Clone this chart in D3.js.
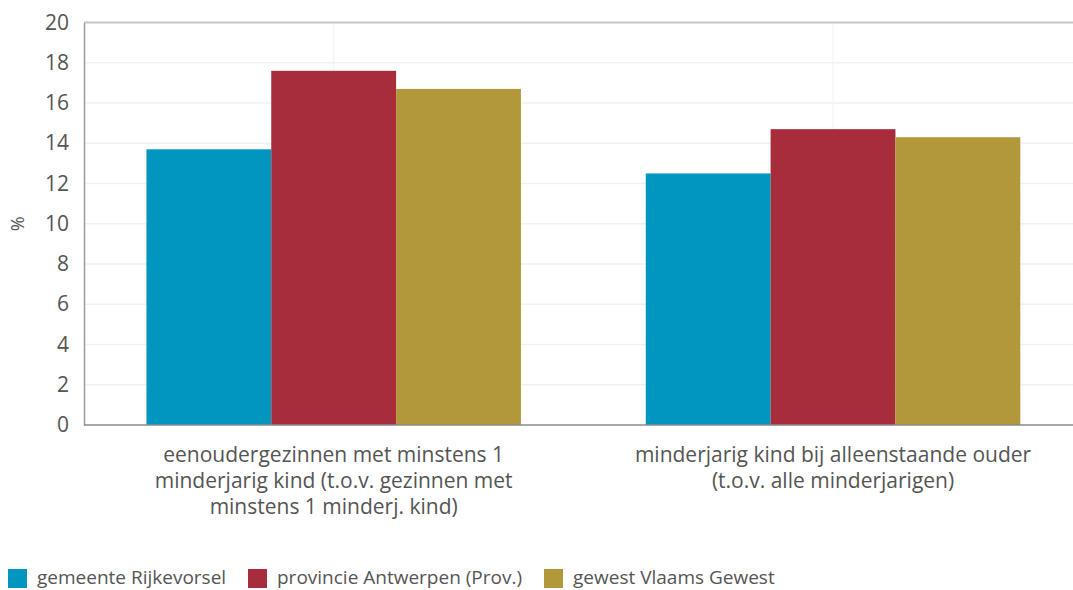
<!DOCTYPE html>
<html>
<head>
<meta charset="utf-8">
<script src="https://cdn.jsdelivr.net/npm/d3@7"></script>
<style>
  html, body { margin: 0; padding: 0; background: #fff; }
  svg { display: block; font-family: "Open Sans", "Noto Sans", sans-serif; }
</style>
</head>
<body>
<svg id="chart" width="1073" height="590"></svg>
<script>
const categories = [
  ["eenoudergezinnen met minstens 1", "minderjarig kind (t.o.v. gezinnen met", "minstens 1 minderj. kind)"],
  ["minderjarig kind bij alleenstaande ouder", "(t.o.v. alle minderjarigen)"]
];
const seriesNames = ["gemeente Rijkevorsel", "provincie Antwerpen (Prov.)", "gewest Vlaams Gewest"];
const seriesColors = ["#0096c0", "#a72d3c", "#b2983b"];
const rijkevorsel = [13.7, 12.5];
const antwerpen = [17.6, 14.7];
const vlaanderen = [16.7, 14.3];
const yTicks = [0, 2, 4, 6, 8, 10, 12, 14, 16, 18, 20];
const yTitle = "%";

const seriesValues = [rijkevorsel, antwerpen, vlaanderen];
const svg = d3.select("#chart");
const margin = { left: 84, top: 22.5, right: 1082.7, bottom: 425 };
const catKeys = categories.map((c, i) => i);

const x0 = d3.scaleBand().domain(catKeys).range([margin.left, margin.right]).paddingInner(0.25).paddingOuter(0.125);
const x1 = d3.scaleBand().domain(d3.range(seriesNames.length)).range([0, x0.bandwidth()]);
const y = d3.scaleLinear().domain([0, 20]).range([margin.bottom, margin.top]);

// grid
svg.append("g").selectAll("line").data(yTicks.filter(t => t > 0 && t < 20)).join("line")
  .attr("x1", margin.left).attr("x2", 1073)
  .attr("y1", d => y(d)).attr("y2", d => y(d))
  .attr("stroke", "#eef2f4").attr("stroke-width", 1.5);

svg.append("g").selectAll("line").data(catKeys).join("line")
  .attr("x1", d => x0(d) + x0.bandwidth() / 2).attr("x2", d => x0(d) + x0.bandwidth() / 2)
  .attr("y1", margin.top).attr("y2", margin.bottom)
  .attr("stroke", "#f1f4f6").attr("stroke-width", 1.2);

// top border
svg.append("line").attr("x1", margin.left).attr("x2", 1073)
  .attr("y1", y(20)).attr("y2", y(20)).attr("stroke", "#c6c6c6").attr("stroke-width", 2);

// bars
const groups = svg.append("g").selectAll("g").data(catKeys).join("g")
  .attr("transform", d => `translate(${x0(d)},0)`);
groups.selectAll("rect").data(ci => seriesValues.map((s, si) => ({ si, v: s[ci] }))).join("rect")
  .attr("x", d => x1(d.si)).attr("width", x1.bandwidth())
  .attr("y", d => y(d.v)).attr("height", d => y(0) - y(d.v))
  .attr("fill", d => seriesColors[d.si]);

// y axis
const yAxis = d3.axisLeft(y).tickValues(yTicks).tickSize(0).tickPadding(15);
const ya = svg.append("g").attr("transform", `translate(${margin.left},0)`).call(yAxis);
ya.select(".domain").attr("stroke", "#9a9a9a").attr("stroke-width", 1.5);
ya.selectAll("text").attr("font-size", 21).attr("fill", "#555").attr("font-family", "Open Sans, sans-serif");

// x axis line
svg.append("line").attr("x1", margin.left).attr("x2", 1073)
  .attr("y1", y(0)).attr("y2", y(0)).attr("stroke", "#8a8a8a").attr("stroke-width", 1.5);

// y title
svg.append("text").attr("transform", `translate(24,${(margin.top + margin.bottom) / 2}) rotate(-90)`)
  .attr("text-anchor", "middle").attr("font-size", 18).attr("fill", "#555").text(yTitle);

// category labels
const cl = svg.append("g").selectAll("text").data(catKeys).join("text")
  .attr("x", d => x0(d) + x0.bandwidth() / 2)
  .attr("y", 462)
  .attr("text-anchor", "middle").attr("font-size", 21).attr("fill", "#555");
cl.selectAll("tspan").data(d => categories[d]).join("tspan")
  .attr("x", function () { return this.parentNode.getAttribute("x"); })
  .attr("dy", (d, i) => i === 0 ? 0 : 26).text(d => d);

// legend
const legendX = [8, 248, 544];
const lg = svg.append("g").selectAll("g").data(seriesNames).join("g")
  .attr("transform", (d, i) => `translate(${legendX[i]},569)`);
lg.append("rect").attr("width", 19).attr("height", 19).attr("fill", (d, i) => seriesColors[i]);
lg.append("text").attr("x", 29).attr("y", 15).attr("font-size", 19).attr("fill", "#555").text(d => d);
</script>
</body>
</html>
